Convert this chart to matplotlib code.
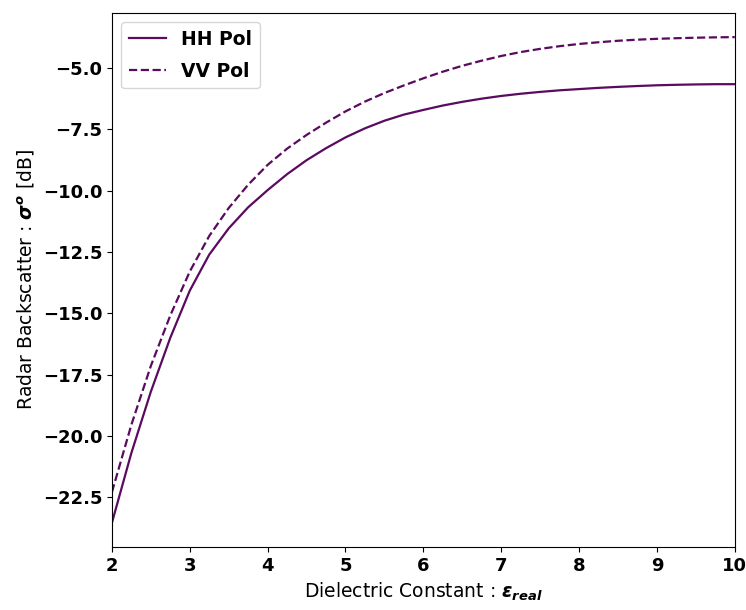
import matplotlib
matplotlib.use('Agg')
import matplotlib.pyplot as plt

# dielectric constant (real part)
eps = [2.0, 2.25, 2.5, 2.75, 3.0, 3.25, 3.5, 3.75, 4.0, 4.25, 4.5, 4.75,
       5.0, 5.25, 5.5, 5.75, 6.0, 6.25, 6.5, 6.75, 7.0, 7.25, 7.5, 7.75,
       8.0, 8.25, 8.5, 8.75, 9.0, 9.25, 9.5, 9.75, 10.0]
# backscatter [dB]
hh = [-23.55, -20.70, -18.20, -16.00, -14.08, -12.61, -11.54, -10.68, -9.98,
      -9.33, -8.76, -8.27, -7.83, -7.46, -7.15, -6.90, -6.71, -6.53, -6.38,
      -6.25, -6.14, -6.05, -5.975, -5.91, -5.86, -5.81, -5.77, -5.735, -5.705,
      -5.685, -5.67, -5.66, -5.66]
vv = [-22.30, -19.55, -17.15, -15.09, -13.30, -11.85, -10.71, -9.76, -8.95,
      -8.29, -7.73, -7.23, -6.77, -6.37, -6.02, -5.71, -5.42, -5.15, -4.91,
      -4.70, -4.51, -4.35, -4.22, -4.11, -4.02, -3.95, -3.89, -3.845, -3.81,
      -3.785, -3.765, -3.75, -3.74]

color = '#5a0a5f'

fig = plt.figure(figsize=(7.46, 6.10), dpi=100)
ax = fig.add_axes([0.150, 0.103, 0.835, 0.876])
ax.plot(eps, hh, color=color, lw=1.6, label='HH Pol')
ax.plot(eps, vv, color=color, lw=1.6, ls='--', label='VV Pol')
ax.set_xlim(2, 10)

ax.set_xlabel(r'Dielectric Constant : $\mathbfit{\varepsilon_{real}}$', fontsize=13.5)
ax.set_ylabel(r'Radar Backscatter : $\mathbfit{\sigma^o}$ [dB]', fontsize=13.5)
for lab in ax.get_xticklabels() + ax.get_yticklabels():
    lab.set_fontweight('bold')
    lab.set_fontsize(13)

leg = ax.legend(loc='upper left', prop={'weight': 'bold', 'size': 13.5},
                labelspacing=0.7)

fig.savefig('out.png', dpi=100)
